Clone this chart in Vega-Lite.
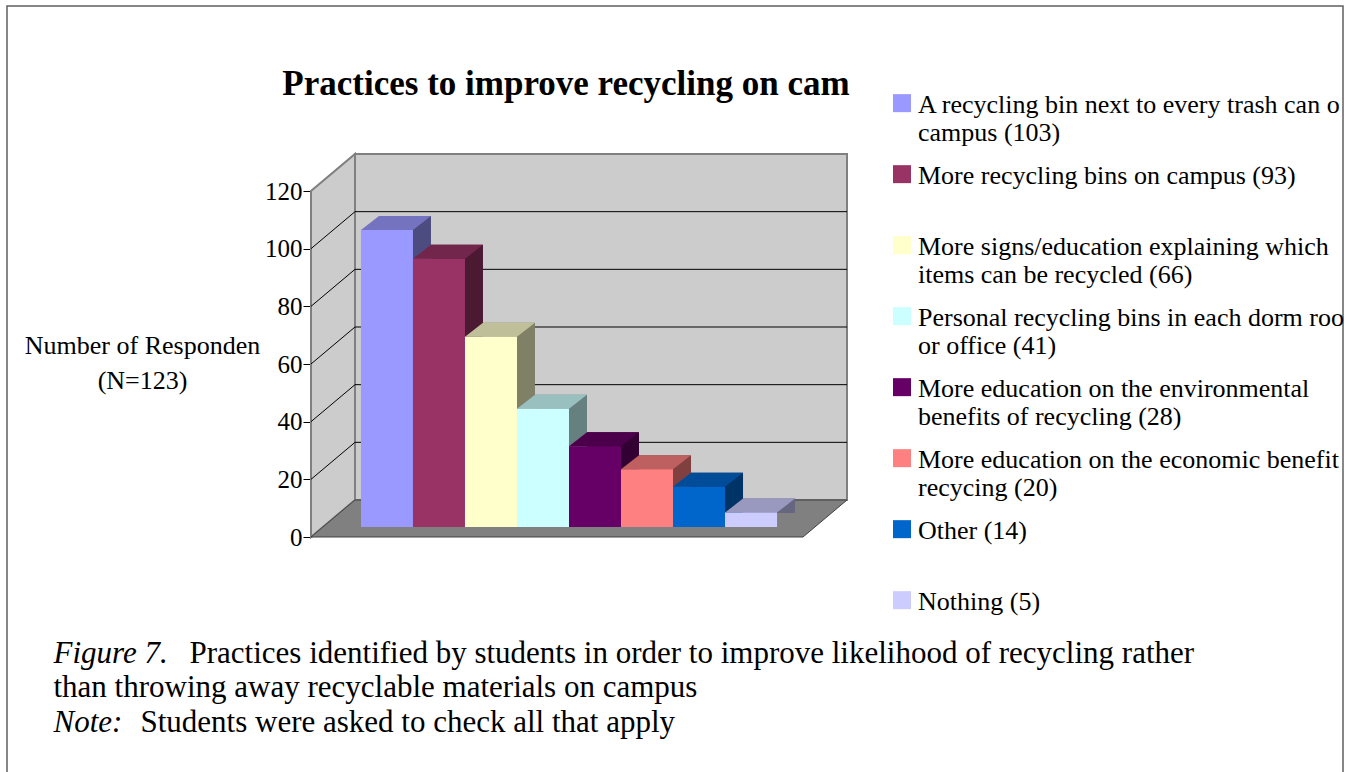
{
  "$schema": "https://vega.github.io/schema/vega-lite/v6.json",
  "autosize": {"type": "none"},
  "width": 492,
  "height": 346,
  "padding": {"left": 311, "top": 191, "right": 544, "bottom": 235},
  "background": "white",
  "title": {
    "text": "Practices to improve recycling on cam",
    "font": "Liberation Serif",
    "fontSize": 35,
    "fontWeight": "bold",
    "color": "black",
    "anchor": "middle",
    "frame": "group",
    "baseline": "alphabetic",
    "offset": -127,
    "dx": 9
  },
  "datasets": {
    "bars": [
      {"label": "A recycling bin next to every trash can o\ncampus (103)", "value": 103},
      {"label": "More recycling bins on campus (93)\n ", "value": 93},
      {"label": "More signs/education explaining which\nitems can be recycled (66)", "value": 66},
      {"label": "Personal recycling bins in each dorm roo\nor office (41)", "value": 41},
      {"label": "More education on the environmental\nbenefits of recycling (28)", "value": 28},
      {"label": "More education on the economic benefit\nrecycing (20)", "value": 20},
      {"label": "Other (14)\n ", "value": 14},
      {"label": "Nothing (5)\n ", "value": 5}
    ],
    "grid": [{"v": 20}, {"v": 40}, {"v": 60}, {"v": 80}, {"v": 100}],
    "one": [{"k": 1}]
  },
  "resolve": {"scale": {"x": "independent", "color": "independent"}, "axis": {"x": "independent"}},
  "layer": [
    {
      "data": {"name": "one"},
      "mark": {"type": "point", "shape": "M-304,-531L1032,-531L1032,253L-304,253Z", "size": 4, "filled": false, "stroke": "#606060", "color": "#606060", "strokeWidth": 1.5, "opacity": 1},
      "encoding": {
        "x": {"datum": 0, "type": "quantitative", "scale": {"domain": [0, 1]},
              "axis": {"orient": "bottom", "title": "Figure 7.", "titleFontStyle": "italic", "titleX": -258, "titleY": 125}},
        "y": {"datum": 0, "type": "quantitative", "scale": {"domain": [0, 120], "nice": false}, "axis": {"title": ["Number of Responden", "(N=123)"]}}
      }
    },
    {
      "data": {"name": "one"},
      "mark": {"type": "rect", "fill": "#cccccc", "stroke": "#808080", "strokeWidth": 2, "xOffset": 44, "x2Offset": 44, "yOffset": -37, "y2Offset": -37},
      "encoding": {
        "x": {"datum": 0, "type": "quantitative", "scale": {"domain": [0, 1]},
              "axis": {"orient": "bottom", "title": "Practices identified by students in order to improve likelihood of recycling rather", "titleX": -122, "titleY": 125}},
        "x2": {"datum": 1},
        "y": {"datum": 0, "type": "quantitative", "scale": {"domain": [0, 120], "nice": false}, "axis": {"title": ["Number of Responden", "(N=123)"]}},
        "y2": {"datum": 120}
      }
    },
    {
      "data": {"name": "one"},
      "mark": {"type": "point", "shape": "M0,0L0,-346L44,-383L44,-37Z", "size": 4, "filled": true, "fill": "#cccccc", "stroke": "#808080", "strokeWidth": 2, "opacity": 1},
      "encoding": {
        "x": {"datum": 0, "type": "quantitative", "scale": {"domain": [0, 1]},
              "axis": {"orient": "bottom", "title": "than throwing away recyclable materials on campus", "titleX": -258, "titleY": 159}},
        "y": {"datum": 0, "type": "quantitative", "scale": {"domain": [0, 120], "nice": false}, "axis": {"title": ["Number of Responden", "(N=123)"]}}
      }
    },
    {
      "data": {"name": "grid"},
      "mark": {"type": "rule", "color": "black", "strokeWidth": 1, "xOffset": 44, "x2Offset": 44, "yOffset": -37, "y2Offset": -37},
      "encoding": {
        "x": {"datum": 0, "type": "quantitative", "scale": {"domain": [0, 1]},
              "axis": {"orient": "bottom", "title": "Note:", "titleFontStyle": "italic", "titleX": -258, "titleY": 194}},
        "x2": {"datum": 1},
        "y": {"field": "v", "type": "quantitative", "scale": {"domain": [0, 120], "nice": false}, "axis": {"title": ["Number of Responden", "(N=123)"]}},
        "y2": {"field": "v"}
      }
    },
    {
      "data": {"name": "grid"},
      "mark": {"type": "rule", "color": "black", "strokeWidth": 1, "x2Offset": 44, "y2Offset": -37},
      "encoding": {
        "x": {"datum": 0, "type": "quantitative", "scale": {"domain": [0, 1]},
              "axis": {"orient": "bottom", "title": "Students were asked to check all that apply", "titleX": -171, "titleY": 194}},
        "x2": {"datum": 0},
        "y": {"field": "v", "type": "quantitative", "scale": {"domain": [0, 120], "nice": false}, "axis": {"title": ["Number of Responden", "(N=123)"]}},
        "y2": {"field": "v"}
      }
    },
    {
      "data": {"name": "one"},
      "mark": {"type": "point", "shape": "M0,0L492,0L536,-37L44,-37Z", "size": 4, "filled": true, "fill": "#808080", "stroke": "#404040", "strokeWidth": 1, "opacity": 1},
      "encoding": {
        "x": {"datum": 0, "type": "quantitative", "scale": {"domain": [0, 1]}, "axis": null},
        "y": {"datum": 0, "type": "quantitative", "scale": {"domain": [0, 120], "nice": false}, "axis": {"title": ["Number of Responden", "(N=123)"]}}
      }
    },
    {
      "data": {"name": "bars"},
      "mark": {"type": "bar", "xOffset": 30, "yOffset": -24, "y2Offset": -24},
      "encoding": {
        "x": {"field": "label", "type": "nominal", "sort": null, "scale": {"type": "band", "paddingInner": 0, "paddingOuter": 0.73}, "axis": null},
        "y": {"field": "value", "type": "quantitative", "scale": {"domain": [0, 120], "nice": false}, "axis": {"title": ["Number of Responden", "(N=123)"]}},
        "y2": {"datum": 0},
        "color": {"field": "label", "type": "nominal", "sort": null, "legend": null,
                  "scale": {"range": ["#4C4C80", "#4C1933", "#808066", "#668080", "#330033", "#804040", "#003366", "#666680"]}}
      }
    },
    {
      "data": {"name": "bars"},
      "mark": {"type": "point", "shape": "M-26,0L-8,-14L44,-14L26,0Z", "size": 4, "filled": true, "opacity": 1, "strokeWidth": 0, "xOffset": 12, "yOffset": -10},
      "encoding": {
        "x": {"field": "label", "type": "nominal", "sort": null, "scale": {"type": "band", "paddingInner": 0, "paddingOuter": 0.73}, "axis": null},
        "y": {"field": "value", "type": "quantitative", "scale": {"domain": [0, 120], "nice": false}, "axis": {"title": ["Number of Responden", "(N=123)"]}},
        "color": {"field": "label", "type": "nominal", "sort": null, "legend": null,
                  "scale": {"range": ["#7373BF", "#73264C", "#BFBF99", "#99BFBF", "#4C004C", "#BF6060", "#004C99", "#9999BF"]}}
      }
    },
    {
      "data": {"name": "bars"},
      "mark": {"type": "bar", "xOffset": 12, "yOffset": -10, "y2Offset": -10},
      "encoding": {
        "x": {"field": "label", "type": "nominal", "sort": null, "scale": {"type": "band", "paddingInner": 0, "paddingOuter": 0.73}, "axis": null},
        "y": {"field": "value", "type": "quantitative", "scale": {"domain": [0, 120], "nice": false}, "axis": {"title": ["Number of Responden", "(N=123)"]}},
        "y2": {"datum": 0},
        "color": {"field": "label", "type": "nominal", "sort": null,
                  "scale": {"range": ["#9999FF", "#993366", "#FFFFCC", "#CCFFFF", "#660066", "#FF8080", "#0066CC", "#CCCCFF"]},
                  "legend": {
                    "orient": "none", "legendX": 578, "legendY": -112, "title": null,
                    "symbolType": "M-1,0.24L1,0.24L1,2.24L-1,2.24Z", "symbolSize": 324, "symbolStrokeWidth": 0,
                    "labelFont": "Liberation Serif", "labelFontSize": 26, "labelColor": "black",
                    "labelBaseline": "top", "labelLineHeight": 31, "labelOffset": 3, "labelLimit": 1000,
                    "labelExpr": "split(datum.label, '\\n')", "rowPadding": 4
                  }}
      }
    }
  ],
  "config": {
    "view": {"stroke": null},
    "axisX": {"domain": false, "ticks": false, "labels": false, "grid": false,
              "titleFont": "Liberation Serif", "titleFontSize": 31, "titleFontWeight": "normal", "titleColor": "black",
              "titleAlign": "left", "titleBaseline": "alphabetic", "titleLimit": 2000, "titlePadding": 0},
    "axisY": {"domainColor": "#404040", "domainWidth": 2, "tickColor": "black", "tickSize": 8, "tickWidth": 1,
              "tickCount": 6, "grid": false, "labelFont": "Liberation Serif", "labelFontSize": 25, "labelColor": "black",
              "labelPadding": 1, "titleFont": "Liberation Serif", "titleFontSize": 26, "titleFontWeight": "normal",
              "titleColor": "black", "titleAngle": 0, "titleAlign": "center", "titleBaseline": "alphabetic",
              "titleX": -169, "titleY": 162, "titleLineHeight": 35, "titleLimit": 1000}
  }
}
